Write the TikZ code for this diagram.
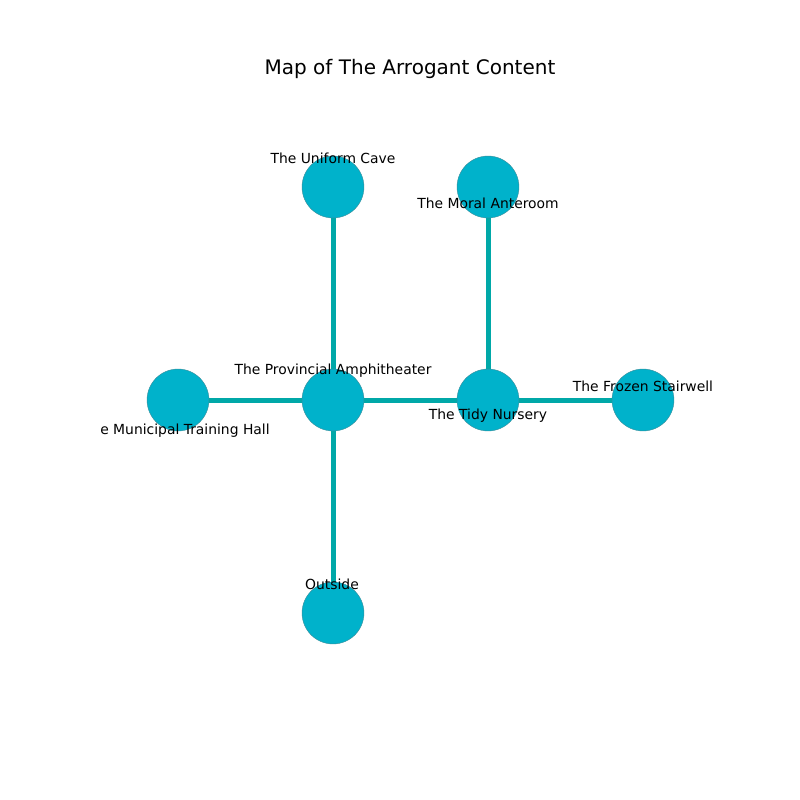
\documentclass[tikz,border=0pt]{standalone}
\usepackage{fontspec}
\setmainfont{DejaVu Sans}
\definecolor{nodefill}{HTML}{00B2CB}
\definecolor{nodeline}{HTML}{3A8C99}
\definecolor{edgecol}{HTML}{00A8A8}
\begin{document}
\begin{tikzpicture}[x=0.72pt,y=-0.72pt,
  room/.style={circle,fill=nodefill,draw=nodeline,line width=0.3pt,minimum size=44.6pt,inner sep=0pt},
  lbl/.style={font=\fontsize{10}{12}\selectfont,inner sep=0pt,text=black},
  link/.style={edgecol,line width=3.6pt}]
\useasboundingbox (0,0) rectangle (800,800);
\node[font=\fontsize{14.4}{17}\selectfont,inner sep=0pt] (title) at (410,68.5) {Map of The Arrogant Content};
\coordinate (uc) at (333,187);
\coordinate (ma) at (488,187);
\coordinate (pa) at (333,400);
\coordinate (tn) at (488,400);
\coordinate (fs) at (643,400);
\coordinate (mt) at (178,400);
\coordinate (ou) at (333,613);
\draw[link] (uc) -- (pa);
\draw[link] (ma) -- (tn);
\draw[link] (mt) -- (pa);
\draw[link] (pa) -- (tn);
\draw[link] (tn) -- (fs);
\draw[link] (pa) -- (ou);
\node[room] (nuc) at (uc) {};
\node[room] (nma) at (ma) {};
\node[room] (npa) at (pa) {};
\node[room] (ntn) at (tn) {};
\node[room] (nfs) at (fs) {};
\node[room] (nmt) at (mt) {};
\node[room] (nou) at (ou) {};
\node[lbl] (luc) at (333,158) {The Uniform Cave};
\node[lbl] (lma) at (488,203) {The Moral Anteroom};
\node[lbl] (lpa) at (333,371) {The Provincial Amphitheater};
\node[lbl] (ltn) at (488,416) {The Tidy Nursery};
\node[lbl] (lfs) at (643,386) {The Frozen Stairwell};
\node[lbl,anchor=west] (lmt) at (100,431) {e Municipal Training Hall};
\node[lbl] (lou) at (332,584) {Outside};
\end{tikzpicture}
\end{document}
